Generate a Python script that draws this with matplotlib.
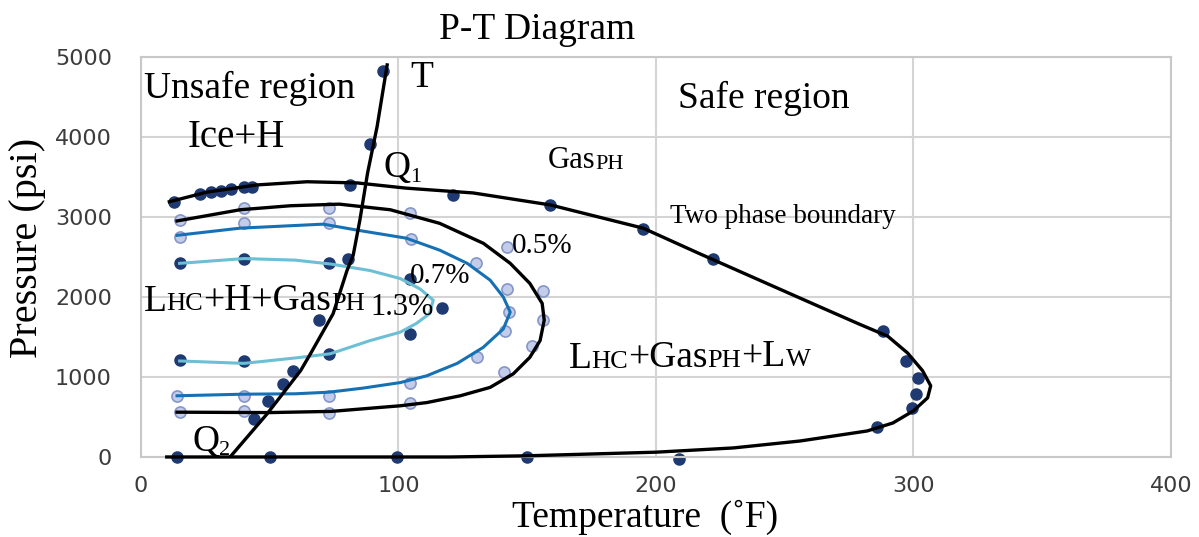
import matplotlib
matplotlib.use('Agg')
import matplotlib.pyplot as plt

# P-T diagram data (Temperature F, Pressure psi)

# hydrate line (T ... Q1 ... Q2)
hyd_line_t = [34.6, 49, 62, 66, 74.6, 80, 82.4, 85, 88, 91.7, 95.6]
hyd_line_p = [0, 540, 1080, 1300, 1790, 2330, 2520, 2960, 3550, 4130, 4900]
hyd_pts_t = [44, 49.5, 55, 59, 69, 80.5, 89, 94]
hyd_pts_p = [480, 700, 915, 1080, 1710, 2480, 3910, 4820]

# two phase boundary
env_line_t = [11, 25.6, 45, 64.5, 84, 103, 129, 159, 195, 217, 243, 262.7, 279, 290, 297.7, 303.5,
              306.7, 305.5, 300, 292, 282, 256, 230, 200, 150, 120, 10]
env_line_p = [3190, 3310, 3400, 3440, 3425, 3360, 3300, 3150, 2860, 2540, 2170, 1890, 1660, 1510, 1300, 1080,
              890, 740, 577, 425, 325, 200, 113, 60, 15, 0, 0]
env_pts_t = [13, 23, 27, 31, 35, 40, 43, 81, 121, 159, 195, 222, 288, 297, 301.6, 301, 299.6, 286,
             14, 50, 99.5, 150, 209]
env_pts_p = [3190, 3290, 3310, 3330, 3350, 3370, 3380, 3400, 3275, 3150, 2850, 2480, 1570, 1200, 990, 790, 615, 375,
             0, 0, 0, 0, -20]

# 0.5 %
c05_line_t = [14, 38.5, 58, 77, 96.8, 116, 133, 143.4, 151, 155.8, 156.6, 155, 151, 144.6, 135.6, 124, 111,
              100.7, 74, 50, 14]
c05_line_p = [2950, 3090, 3140, 3160, 3090, 2920, 2670, 2420, 2170, 1920, 1710, 1455, 1245, 1040, 870, 765, 680,
              640, 570, 555, 560]
c05_pts_t = [15, 40, 73, 104.5, 142, 156, 156, 152, 141, 104.5, 73, 40, 15]
c05_pts_p = [2960, 3110, 3110, 3050, 2630, 2080, 1710, 1390, 1065, 680, 555, 575, 565]

# 0.7 %
c07_line_t = [14, 38.5, 70.8, 84, 103, 116, 126.7, 135.6, 140.7, 143.4, 140.7, 132.9, 122.8, 111, 100.7,
              86, 73, 60, 40, 14]
c07_line_p = [2770, 2860, 2910, 2835, 2735, 2585, 2420, 2210, 2000, 1810, 1600, 1370, 1170, 1015, 930,
              860, 810, 790, 785, 765]
c07_pts_t = [15, 40, 73, 105, 130, 142, 143, 141.5, 130.6, 104.5, 73, 40, 14]
c07_pts_p = [2750, 2920, 2920, 2720, 2420, 2100, 1810, 1580, 1250, 930, 765, 765, 765]

# 1.3 %
c13_line_t = [15, 40, 60, 74, 89, 100.7, 108.4, 113.5, 112, 107, 100.7, 89, 73.5, 60.6, 40, 15]
c13_line_p = [2420, 2480, 2460, 2410, 2330, 2230, 2100, 1960, 1790, 1670, 1560, 1455, 1290, 1240, 1170, 1200]
c13_pts_t = [15, 40, 73, 104.5, 117, 104.5, 73, 40, 15]
c13_pts_p = [2420, 2480, 2420, 2230, 1860, 1540, 1290, 1200, 1210]

x_ticks = [0, 100, 200, 300, 400]
y_ticks = [0, 1000, 2000, 3000, 4000, 5000]

serif = ['Liberation Serif', 'DejaVu Serif']
dark = '#1f3a72'
pale_face = '#c3cce9'
pale_edge = '#8596c9'

fig = plt.figure(figsize=(11.99, 5.37), dpi=100)
ax = fig.add_axes([0.1176, 0.149, 0.859, 0.745])

ax.set_xlim(0, 400)
ax.set_ylim(0, 5000)
ax.set_xticks(x_ticks)
ax.set_yticks(y_ticks)
ax.grid(True, color='#d4d4d4', linewidth=1.5)
ax.set_axisbelow(True)
for s in ax.spines.values():
    s.set_color('#c8c8c8')
    s.set_linewidth(1.5)
ax.tick_params(length=0, labelsize=16, labelcolor='#3c3c3c')
ax.tick_params(axis='y', pad=21)
ax.tick_params(axis='x', pad=14)

# markers
ax.plot(c05_pts_t, c05_pts_p, 'o', ms=8, mfc=pale_face, mec=pale_edge, mew=1.2, zorder=2, clip_on=False)
ax.plot(c07_pts_t, c07_pts_p, 'o', ms=8, mfc=pale_face, mec=pale_edge, mew=1.2, zorder=2, clip_on=False)
ax.plot(c13_pts_t, c13_pts_p, 'o', ms=8, color=dark, zorder=2, clip_on=False)
ax.plot(env_pts_t, env_pts_p, 'o', ms=8, color=dark, zorder=2, clip_on=False)
ax.plot(hyd_pts_t, hyd_pts_p, 'o', ms=8, color=dark, zorder=2, clip_on=False)

# lines
ax.plot(c13_line_t, c13_line_p, color='#6cbfd4', lw=2.2, zorder=3, solid_joinstyle='round')
ax.plot(c07_line_t, c07_line_p, color='#1670b4', lw=2.2, zorder=3, solid_joinstyle='round')
ax.plot(c05_line_t, c05_line_p, color='black', lw=2.4, zorder=3, solid_joinstyle='round')
ax.plot(env_line_t, env_line_p, color='black', lw=2.4, zorder=3, clip_on=False, solid_joinstyle='round')
ax.plot(hyd_line_t, hyd_line_p, color='black', lw=2.4, zorder=3, solid_joinstyle='round')


def label(x, y, parts):
    # parts: list of (text, fontsize, extra baseline shift in points)
    prev = None
    prev_size = 0
    for s, size, shift in parts:
        if prev is None:
            prev = ax.text(x, y, s, fontsize=size, family=serif, va='baseline', ha='left', zorder=5)
        else:
            prev = ax.annotate(s, xy=(1, 0), xycoords=prev, xytext=(0, 0.217 * prev_size + shift),
                               textcoords='offset points', fontsize=size, family=serif,
                               va='baseline', ha='left', zorder=5)
        prev_size = size
    return prev


big = 27
small = 19
label(1, 4490, [('Unsafe region', big, 0)])
label(18, 3880, [('Ice+H', 28, 0)])
label(104.5, 4630, [('T', big, 0)])
label(94, 3500, [('Q', big, 0), ('1', 16, -3.5)])
label(20, 75, [('Q', big, 0), ('2', 16, -3)])
label(208.5, 4365, [('Safe region', big, 0)])
label(158, 3610, [('Gas', 22, 0), ('PH', 16, 0)])
label(205.5, 2920, [('Two phase boundary', 19.5, 0)])
label(144, 2545, [('0.5%', 21, 0)])
label(104.5, 2170, [('0.7%', 21, 0)])
label(89, 1770, [('1.3%', 22, 0)])
label(1, 1830, [('L', big, 0), ('HC', small, 0), ('+H+Gas', big, 0), ('PH', small, 0)])
label(166, 1115, [('L', big, 0), ('HC', small, 0), ('+Gas', big, 0), ('PH', small, 0),
                  ('+L', big, 0), ('W', small, 0)])

fig.text(0.448, 0.945, 'P-T Diagram', fontsize=27, family=serif, ha='center', va='center')
fig.text(0.538, 0.037, 'Temperature  (\u02daF)', fontsize=27, family=serif, ha='center', va='center')
fig.text(0.023, 0.539, 'Pressure (psi)', fontsize=29, family=serif, ha='center', va='center', rotation=90)

fig.savefig('out.png', dpi=100)
